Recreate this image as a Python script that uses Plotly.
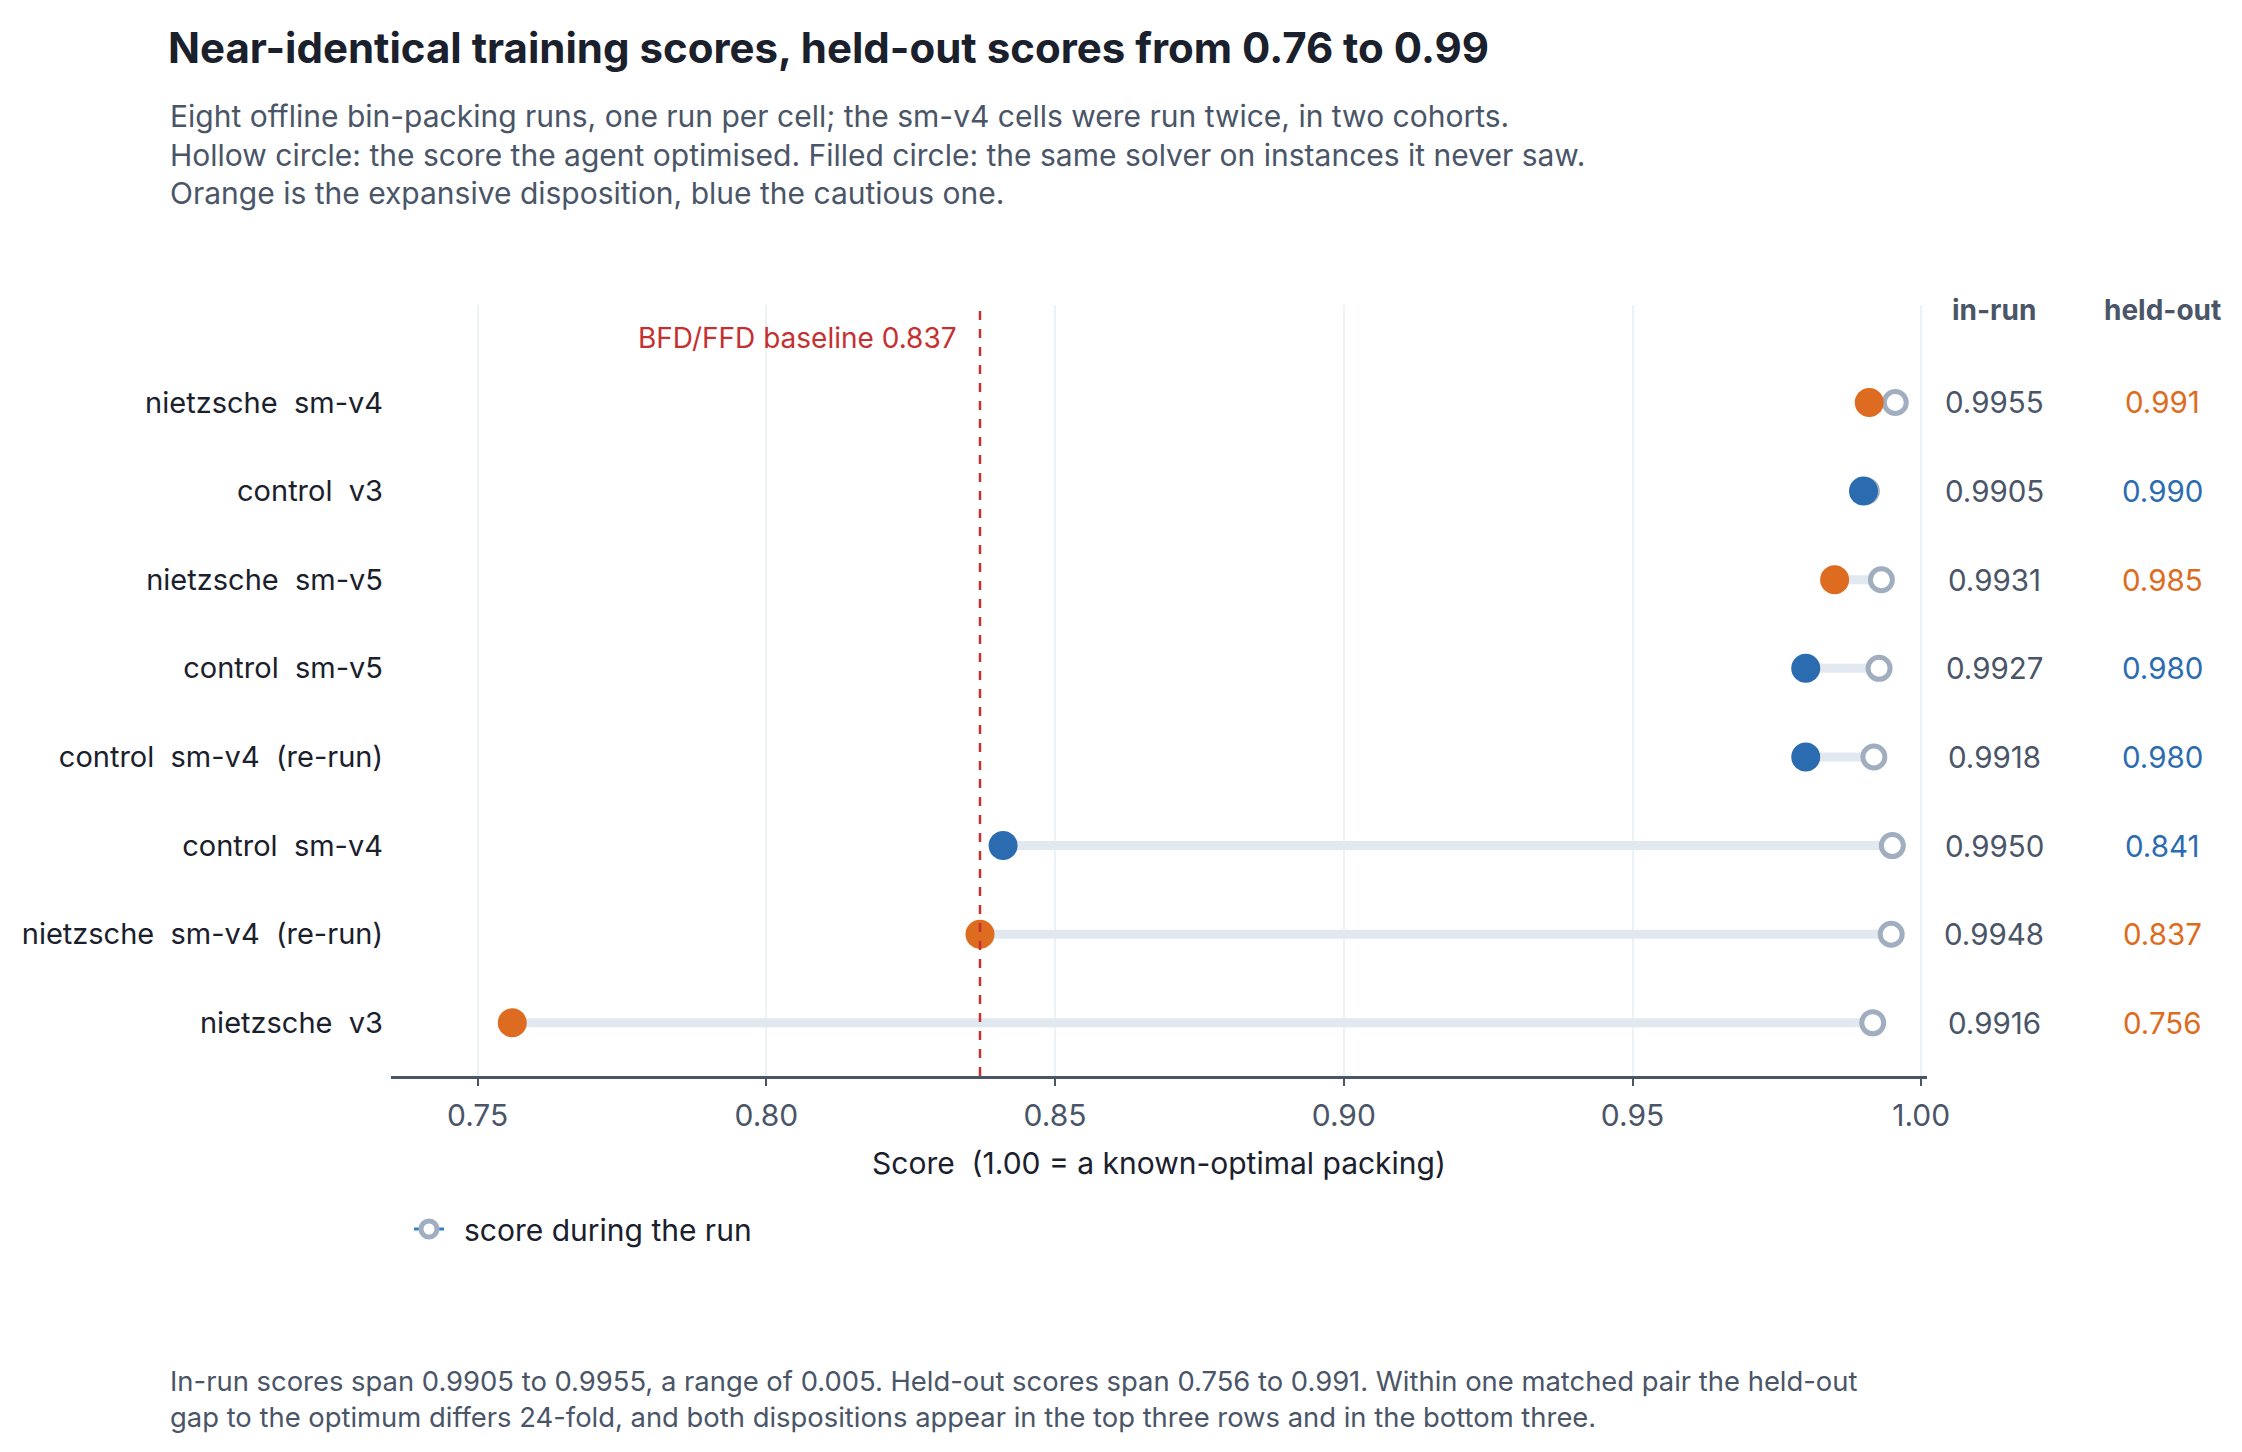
import plotly.graph_objects as go

# ---------------- data ----------------
labels = ["nietzsche  sm-v4", "control  v3", "nietzsche  sm-v5", "control  sm-v5",
          "control  sm-v4  (re-run)", "control  sm-v4", "nietzsche  sm-v4  (re-run)",
          "nietzsche  v3"]
in_run = [0.9955, 0.9905, 0.9931, 0.9927, 0.9918, 0.9950, 0.9948, 0.9916]
held_out = [0.991, 0.990, 0.985, 0.980, 0.980, 0.841, 0.837, 0.756]
disposition = ["expansive", "cautious", "expansive", "cautious", "cautious",
               "cautious", "expansive", "expansive"]
baseline = 0.837
x_ticks = [0.75, 0.80, 0.85, 0.90, 0.95, 1.00]
x_ticklabels = ["0.75", "0.80", "0.85", "0.90", "0.95", "1.00"]

title = "<b>Near-identical training scores, held-out scores from 0.76 to 0.99</b>"
subtitle_lines = [
    "Eight offline bin-packing runs, one run per cell; the sm-v4 cells were run twice, in two cohorts.",
    "Hollow circle: the score the agent optimised. Filled circle: the same solver on instances it never saw.",
    "Orange is the expansive disposition, blue the cautious one.",
]
footer_lines = [
    "In-run scores span 0.9905 to 0.9955, a range of 0.005. Held-out scores span 0.756 to 0.991. Within one matched pair the held-out",
    "gap to the optimum differs 24-fold, and both dispositions appear in the top three rows and in the bottom three.",
]

# ---------------- style ----------------
FONT = "Inter, Liberation Sans, Arial, sans-serif"
ORANGE = "#dd6b20"
BLUE = "#2b6cb0"
COLORS = {"expansive": ORANGE, "cautious": BLUE}
DARK = "#1a202c"
GREY = "#4a5568"
W, H = 2242, 1452
L, R, T, B = 391, 315, 305, 376
PW, PH = W - L - R, H - T - B


def px_x(px):
    return (px - L) / PW


def px_y(py):
    return (H - B - py) / PH


fig = go.Figure()

# connectors
cx, cy = [], []
for lab, a, b in zip(labels, held_out, in_run):
    cx += [a, b, None]
    cy += [lab, lab, None]
fig.add_trace(go.Scatter(x=cx, y=cy, mode="lines",
                         line=dict(color="#e2e8f0", width=9),
                         showlegend=False, hoverinfo="skip"))

# hollow circles (in-run score)
hx, hy = [], []
for lab, b in zip(labels, in_run):
    hx += [b, None]
    hy += [lab, None]
fig.add_trace(go.Scatter(x=hx, y=hy, mode="lines+markers",
                         name="\u2002score during the run",
                         line=dict(color="#3182ce", width=3),
                         marker=dict(symbol="circle", size=22, color="white",
                                     line=dict(color="#a0aec0", width=5)),
                         showlegend=True))

# filled circles (held-out)
fig.add_trace(go.Scatter(x=held_out, y=labels, mode="markers",
                         marker=dict(size=29, color=[COLORS[d] for d in disposition]),
                         showlegend=False))

# baseline
fig.add_shape(type="line", x0=baseline, x1=baseline, xref="x", y0=0, y1=1, yref="paper",
              line=dict(color="#c53030", width=2.5, dash="dash"))
fig.add_annotation(x=baseline, xref="x", y=px_y(338), yref="paper", xanchor="right",
                   xshift=-21, yanchor="middle", showarrow=False,
                   text="BFD/FFD baseline %.3f" % baseline,
                   font=dict(family=FONT, size=28, color="#c53030"))

# right-hand columns
for txt, xc in [("<b>in-run</b>", 1994), ("<b>held-out</b>", 2162)]:
    fig.add_annotation(x=px_x(xc), xref="paper", y=px_y(310), yref="paper",
                       xanchor="center", yanchor="middle", showarrow=False,
                       text=txt, font=dict(family=FONT, size=28, color=GREY))
for lab, a, b, d in zip(labels, held_out, in_run, disposition):
    fig.add_annotation(x=px_x(1994), xref="paper", y=lab, yref="y", showarrow=False,
                       xanchor="center", yanchor="middle",
                       text="%.4f" % b, font=dict(family=FONT, size=29.5, color=GREY))
    fig.add_annotation(x=px_x(2162), xref="paper", y=lab, yref="y", showarrow=False,
                       xanchor="center", yanchor="middle",
                       text="%.3f" % a, font=dict(family=FONT, size=29.5, color=COLORS[d]))

# subtitle & footer
for line, yc in zip(subtitle_lines, [115.5, 154.5, 192.5]):
    fig.add_annotation(x=px_x(168), xref="paper", y=px_y(yc), yref="paper", xanchor="left",
                       yanchor="middle", showarrow=False, align="left", text=line,
                       font=dict(family=FONT, size=30, color=GREY))
for line, yc in zip(footer_lines, [1381, 1417]):
    fig.add_annotation(x=px_x(168), xref="paper", y=px_y(yc), yref="paper", xanchor="left",
                       yanchor="middle", showarrow=False, align="left", text=line,
                       font=dict(family=FONT, size=27.4, color=GREY))

fig.update_layout(
    width=W, height=H,
    margin=dict(l=L, r=R, t=T, b=B, autoexpand=False),
    paper_bgcolor="white", plot_bgcolor="white",
    font=dict(family=FONT, size=28, color=DARK),
    title=dict(text=title, x=168 / W, xanchor="left", xref="container",
               y=1 - 48.5 / H, yanchor="middle", yref="container",
               font=dict(family=FONT, size=42, color=DARK)),
    xaxis=dict(range=[0.735, 1.001], tickvals=x_ticks, ticktext=x_ticklabels,
               showgrid=True, gridcolor="#edf2f7", gridwidth=2, zeroline=False,
               showline=True, linecolor=GREY, linewidth=3,
               ticks="outside", ticklen=7, tickwidth=2, tickcolor=GREY,
               ticklabelstandoff=4,
               tickfont=dict(family=FONT, size=30, color=GREY),
               title=dict(text="Score  (1.00 = a known-optimal packing)", standoff=21,
                          font=dict(family=FONT, size=30, color=DARK))),
    yaxis=dict(type="category", categoryorder="array", categoryarray=labels[::-1],
               range=[-0.6, 8.1], showgrid=False, zeroline=False, showline=False,
               ticks="", ticklabelstandoff=7,
               tickfont=dict(family=FONT, size=29, color=DARK)),
    legend=dict(orientation="h", x=18 / PW, xanchor="left", y=px_y(1229), yanchor="middle",
                font=dict(family=FONT, size=30, color=DARK), bgcolor="rgba(0,0,0,0)"),
    hovermode=False,
)

fig.write_html("out.html", config={"displayModeBar": False},
               post_script="document.body.style.margin='0';document.body.style.overflow='hidden';")
